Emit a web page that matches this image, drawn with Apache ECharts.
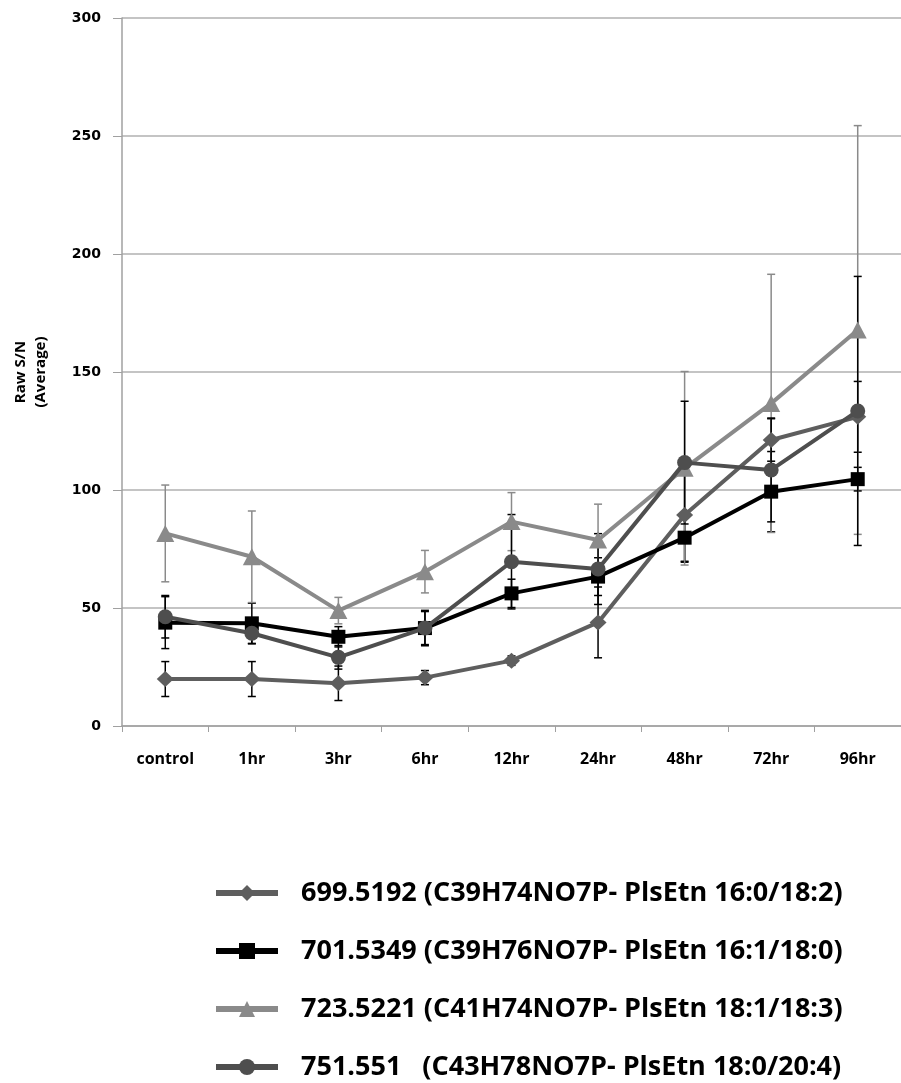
<!DOCTYPE html>
<html>
<head>
<meta charset="utf-8">
<script src="https://cdn.jsdelivr.net/npm/echarts@6/dist/echarts.min.js"></script>
<style>html,body{margin:0;padding:0;background:#fff}#c{width:901px;height:1083px}</style>
</head>
<body>
<div id="c"></div>
<script>
const categories = ['control','1hr','3hr','6hr','12hr','24hr','48hr','72hr','96hr'];
const names = [
  '699.5192 (C39H74NO7P- PlsEtn 16:0/18:2)',
  '701.5349 (C39H76NO7P- PlsEtn 16:1/18:0)',
  '723.5221 (C41H74NO7P- PlsEtn 18:1/18:3)',
  '751.551   (C43H78NO7P- PlsEtn 18:0/20:4)'
];
const s699 = [19.9, 19.9, 18.1, 20.5, 27.7, 43.9, 89.4, 121.2, 131.0];
const s699err = [7.4, 7.4, 7.3, 3, 2, 15, 20, 9, 15];
const s701 = [43.8, 43.5, 37.8, 41.5, 56.2, 63.3, 79.8, 99.3, 104.6];
const s701err = [11, 8.5, 4.3, 7.5, 6, 8, 10, 17, 5];
const s723 = [81.6, 71.7, 48.9, 65.4, 86.6, 78.8, 109.2, 136.7, 167.8];
const s723err = [20.5, 19.4, 5.6, 9, 12.3, 15.2, 41, 54.7, 86.6];
const s751 = [46.3, 39.3, 29.1, 41.5, 69.6, 66.5, 111.6, 108.5, 133.5];
const s751err = [9, 4.5, 5, 7, 20, 15, 26, 22, 57];
const yTicks = [0, 50, 100, 150, 200, 250, 300];

const colors = ['#5e5e5e', '#000000', '#8a8a8a', '#4e4e4e'];
const errColors = ['#000000', '#000000', '#8a8a8a', '#000000'];
const symbols = ['diamond', 'rect', 'triangle', 'circle'];
const symSizes = [[17, 16], 14, [18, 17], 15];
const values = [s699, s701, s723, s751];
const errs = [s699err, s701err, s723err, s751err];

function errSeries(i) {
  return {
    type: 'custom',
    name: 'err' + i,
    z: 1,
    silent: true,
    data: values[i].map((v, k) => [k, v, errs[i][k]]),
    encode: { x: 0, y: 1 },
    renderItem: function (params, api) {
      const x = api.value(0), v = api.value(1), e = api.value(2);
      const t = api.coord([x, v + e]);
      const b = api.coord([x, v - e]);
      const w = 4;
      const st = { stroke: errColors[i], lineWidth: 1.5 };
      return {
        type: 'group',
        children: [
          { type: 'line', shape: { x1: t[0], y1: t[1], x2: b[0], y2: b[1] }, style: st },
          { type: 'line', shape: { x1: t[0] - w, y1: t[1], x2: t[0] + w, y2: t[1] }, style: st },
          { type: 'line', shape: { x1: b[0] - w, y1: b[1], x2: b[0] + w, y2: b[1] }, style: st }
        ]
      };
    }
  };
}

const lineSeries = values.map((vals, i) => ({
  type: 'line',
  name: names[i],
  data: vals,
  z: 3 + i,
  symbol: symbols[i],
  symbolSize: symSizes[i],
  showAllSymbol: true,
  lineStyle: { color: colors[i], width: 4 },
  itemStyle: { color: colors[i] },
  animation: false
}));

const chart = echarts.init(document.getElementById('c'));
chart.setOption({
  animation: false,
  backgroundColor: '#fff',
  grid: { left: 122, right: -4, top: 18, bottom: 357, containLabel: false },
  xAxis: {
    type: 'category',
    data: categories,
    boundaryGap: true,
    axisLine: { lineStyle: { color: '#a0a0a0', width: 1.5 } },
    axisTick: { show: true, length: 6, lineStyle: { color: '#a0a0a0' } },
    axisLabel: { color: '#000', fontFamily: 'Open Sans', fontWeight: 'bold', fontSize: 16, margin: 25 },
    splitLine: { show: false }
  },
  yAxis: {
    type: 'value',
    min: yTicks[0],
    max: yTicks[yTicks.length - 1],
    interval: 50,
    name: 'Raw S/N\n(Average)',
    nameLocation: 'middle',
    nameRotate: 90,
    nameGap: 71,
    nameTextStyle: { color: '#000', fontFamily: 'Open Sans', fontWeight: 'bold', fontSize: 15, lineHeight: 20 },
    axisLine: { show: true, lineStyle: { color: '#a0a0a0', width: 1.5 } },
    axisTick: { show: true, length: 9, lineStyle: { color: '#a0a0a0' } },
    axisLabel: { color: '#000', fontFamily: 'DejaVu Sans', fontWeight: 'bold', fontSize: 14, margin: 21 },
    splitLine: { show: true, lineStyle: { color: '#b0b0b0', width: 1.5 } }
  },
  legend: {
    orient: 'vertical',
    left: 213,
    top: 878,
    padding: 0,
    height: 205,
    itemGap: 28,
    itemWidth: 62,
    itemHeight: 20,
    data: names,
    lineStyle: { width: 6 },
    textStyle: { color: '#000', fontFamily: 'Open Sans', fontWeight: 'bold', fontSize: 27, lineHeight: 30, padding: [0, 0, 0, 18] },
    selectedMode: false
  },
  series: [errSeries(0), errSeries(1), errSeries(2), errSeries(3)].concat(lineSeries)
});
</script>
</body>
</html>
